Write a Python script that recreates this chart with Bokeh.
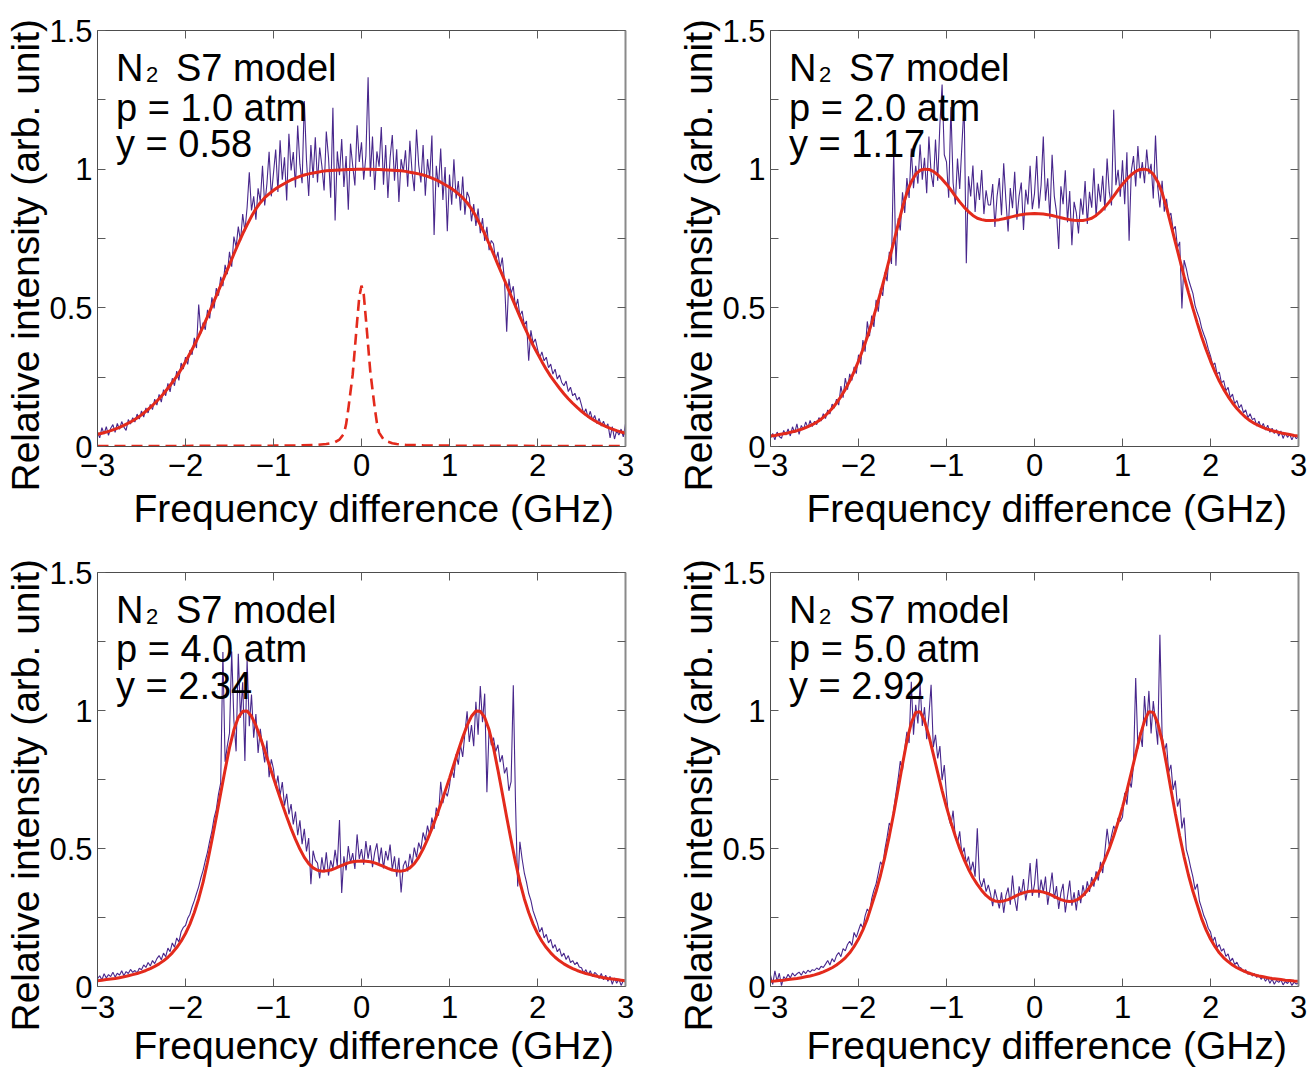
import numpy as np
from bokeh.plotting import figure
from bokeh.models import Range1d, FixedTicker, LinearAxis, Label, Title
from bokeh.layouts import row, column
from bokeh.embed import file_html
from bokeh.resources import INLINE

# ---------------- data ----------------
# measured spectra sampled every 0.025 GHz from -3 to 3 GHz (241 points)
meas_freq = np.round(np.linspace(-3.0, 3.0, 241), 4)
# model curves sampled every 0.05 GHz from -3 to 3 GHz (121 points)
model_freq = np.round(np.linspace(-3.0, 3.0, 121), 4)

x_ticks = [-3, -2, -1, 0, 1, 2, 3]
x_tick_labels = ["\u22123", "\u22122", "\u22121", "0", "1", "2", "3"]
y_ticks = [0.0, 0.25, 0.5, 0.75, 1.0, 1.25, 1.5]
y_tick_labels = ["0", "", "0.5", "", "1", "", "1.5"]

pressures = ["1.0", "2.0", "4.0", "5.0"]
y_params = ["0.58", "1.17", "2.34", "2.92"]

signal_1atm = [
    0.052, 0.031, 0.068, 0.045, 0.072, 0.040, 0.066, 0.079, 0.051, 0.083, 0.062, 0.090, 0.070, 0.058, 0.097, 0.081, 0.104, 0.088, 0.117, 0.099,
    0.128, 0.106, 0.139, 0.121, 0.152, 0.133, 0.171, 0.149, 0.188, 0.160, 0.205, 0.183, 0.228, 0.197, 0.246, 0.219, 0.272, 0.238, 0.301, 0.279,
    0.322, 0.296, 0.348, 0.331, 0.392, 0.355, 0.512, 0.408, 0.447, 0.421, 0.493, 0.462, 0.538, 0.498, 0.571, 0.544, 0.612, 0.578, 0.655, 0.621,
    0.702, 0.648, 0.757, 0.719, 0.793, 0.741, 0.838, 0.776, 0.862, 0.989, 0.851, 0.902, 0.818, 0.931, 0.884, 1.012, 0.869, 0.947, 1.063, 0.902,
    0.986, 1.071, 0.918, 1.104, 0.962, 1.043, 0.887, 1.128, 0.995, 1.062, 0.934, 1.157, 1.018, 0.949, 1.246, 1.032, 0.903, 1.087, 0.968, 1.115,
    0.952, 1.078, 1.011, 0.923, 1.136, 1.042, 0.897, 1.221, 0.815, 1.064, 0.978, 1.109, 0.936, 1.047, 0.854, 1.092, 1.013, 0.941, 1.158, 1.026,
    1.097, 0.962, 1.048, 1.331, 0.973, 1.118, 0.925, 1.064, 1.009, 1.152, 0.944, 1.087, 0.896, 1.041, 1.123, 0.958, 1.072, 0.882, 1.036, 0.991,
    1.068, 0.937, 1.102, 0.989, 0.921, 1.143, 1.015, 0.952, 1.087, 0.904, 1.036, 0.968, 1.121, 0.763, 1.012, 0.935, 1.074, 0.889, 1.008, 0.776,
    0.981, 0.872, 1.036, 0.894, 0.957, 0.851, 0.973, 0.836, 0.918, 0.897, 0.812, 0.874, 0.795, 0.858, 0.769, 0.824, 0.741, 0.792, 0.708, 0.743,
    0.731, 0.668, 0.702, 0.641, 0.681, 0.598, 0.414, 0.605, 0.552, 0.578, 0.497, 0.532, 0.471, 0.489, 0.438, 0.452, 0.309, 0.419, 0.372, 0.388,
    0.352, 0.318, 0.341, 0.309, 0.322, 0.284, 0.297, 0.261, 0.279, 0.243, 0.258, 0.231, 0.219, 0.236, 0.198, 0.214, 0.183, 0.192, 0.167, 0.178,
    0.149, 0.118, 0.136, 0.104, 0.127, 0.095, 0.112, 0.083, 0.101, 0.074, 0.091, 0.068, 0.082, 0.031, 0.072, 0.027, 0.058, 0.041, 0.063, 0.035,
    0.082,
]

signal_2atm = [
    0.031, 0.047, 0.024, 0.052, 0.036, 0.029, 0.058, 0.041, 0.063, 0.038, 0.071, 0.049, 0.082, 0.044, 0.076, 0.061, 0.089, 0.067, 0.094, 0.072,
    0.091, 0.079, 0.104, 0.092, 0.118, 0.101, 0.132, 0.117, 0.153, 0.138, 0.171, 0.149, 0.218, 0.176, 0.247, 0.205, 0.262, 0.238, 0.287, 0.263,
    0.331, 0.296, 0.384, 0.342, 0.451, 0.398, 0.472, 0.431, 0.529, 0.486, 0.571, 0.543, 0.628, 0.596, 0.702, 0.658, 1.068, 0.652, 0.823, 0.779,
    0.917, 0.842, 0.968, 0.896, 1.074, 0.931, 1.012, 0.948, 1.089, 0.962, 1.041, 0.913, 1.118, 0.985, 0.936, 1.107, 0.958, 1.163, 1.305, 1.052,
    1.026, 0.897, 1.224, 0.951, 0.873, 1.038, 0.929, 1.087, 1.238, 0.661, 0.974, 0.902, 1.013, 0.846, 0.952, 0.889, 0.997, 0.838, 0.924, 0.871,
    0.871, 0.946, 0.792, 0.903, 0.968, 0.834, 1.021, 0.887, 0.775, 0.932, 0.859, 0.991, 0.818, 0.904, 0.952, 0.781, 0.926, 0.873, 1.012, 0.856,
    0.912, 1.047, 0.858, 0.943, 1.118, 0.886, 0.967, 0.821, 1.052, 0.903, 0.845, 0.712, 0.938, 0.874, 0.996, 0.809, 0.921, 0.726, 0.882, 0.843,
    0.768, 0.894, 0.836, 0.957, 0.802, 0.918, 0.861, 1.003, 0.829, 0.947, 0.883, 0.976, 0.851, 1.038, 0.917, 0.869, 1.214, 0.942, 0.998, 0.901,
    1.032, 0.874, 1.061, 0.742, 0.993, 1.047, 0.938, 1.083, 0.967, 1.026, 0.949, 1.071, 0.982, 1.019, 0.894, 1.121, 0.936, 0.862, 0.958, 0.847,
    0.893, 0.827, 0.842, 0.781, 0.794, 0.716, 0.738, 0.498, 0.672, 0.641, 0.603, 0.577, 0.552, 0.508, 0.483, 0.461, 0.427, 0.404, 0.382, 0.351,
    0.327, 0.294, 0.301, 0.262, 0.268, 0.229, 0.238, 0.201, 0.213, 0.176, 0.189, 0.154, 0.166, 0.139, 0.151, 0.121, 0.132, 0.104, 0.118, 0.097,
    0.102, 0.074, 0.091, 0.068, 0.083, 0.059, 0.077, 0.051, 0.066, 0.047, 0.061, 0.038, 0.056, 0.029, 0.049, 0.033, 0.044, 0.024, 0.041, 0.028,
    0.036,
]

signal_4atm = [
    0.028, 0.039, 0.024, 0.046, 0.031, 0.043, 0.036, 0.052, 0.034, 0.048, 0.041, 0.057, 0.039, 0.054, 0.047, 0.062, 0.051, 0.058, 0.049, 0.066,
    0.061, 0.078, 0.069, 0.087, 0.074, 0.094, 0.083, 0.101, 0.112, 0.097, 0.121, 0.108, 0.139, 0.126, 0.158, 0.142, 0.176, 0.161, 0.198, 0.214,
    0.221, 0.247, 0.262, 0.289, 0.311, 0.337, 0.362, 0.394, 0.421, 0.456, 0.487, 0.528, 0.563, 0.611, 0.642, 0.697, 0.738, 1.212, 0.814, 0.872,
    0.918, 1.214, 0.963, 0.852, 1.206, 0.974, 1.102, 0.817, 1.186, 0.943, 1.058, 0.901, 0.987, 0.846, 0.934, 0.869, 0.812, 0.891, 0.758, 0.823,
    0.788, 0.719, 0.764, 0.692, 0.741, 0.655, 0.698, 0.624, 0.661, 0.587, 0.634, 0.548, 0.602, 0.516, 0.571, 0.489, 0.538, 0.371, 0.492, 0.458,
    0.447, 0.392, 0.468, 0.413, 0.486, 0.402, 0.457, 0.428, 0.495, 0.437, 0.603, 0.339, 0.472, 0.421, 0.509, 0.448, 0.483, 0.426, 0.551, 0.462,
    0.498, 0.441, 0.527, 0.463, 0.512, 0.432, 0.486, 0.519, 0.447, 0.503, 0.428, 0.491, 0.457, 0.514, 0.423, 0.472, 0.398, 0.466, 0.341, 0.437,
    0.456, 0.417, 0.481, 0.442, 0.503, 0.468, 0.521, 0.497, 0.558, 0.529, 0.583, 0.547, 0.612, 0.571, 0.648, 0.619, 0.742, 0.664, 0.707, 0.689,
    0.728, 0.791, 0.756, 0.842, 0.804, 0.876, 0.832, 0.918, 0.997, 0.886, 0.947, 0.871, 1.032, 0.912, 1.089, 0.958, 1.061, 0.704, 0.936, 0.874,
    0.902, 0.851, 0.876, 0.813, 0.838, 0.772, 0.794, 0.709, 0.742, 1.091, 0.668, 0.362, 0.524, 0.463, 0.412, 0.378, 0.337, 0.312, 0.274, 0.251,
    0.228, 0.197, 0.214, 0.176, 0.189, 0.158, 0.171, 0.139, 0.152, 0.126, 0.137, 0.109, 0.121, 0.098, 0.112, 0.087, 0.094, 0.079, 0.088, 0.071,
    0.068, 0.049, 0.061, 0.042, 0.057, 0.036, 0.051, 0.044, 0.029, 0.047, 0.024, 0.041, 0.019, 0.037, 0.008, 0.031, 0.012, 0.027, 0.004, 0.021,
    0.016,
]

signal_5atm = [
    0.041, 0.008, 0.057, 0.019, 0.048, 0.003, 0.036, 0.027, 0.044, 0.031, 0.049, 0.038, 0.046, 0.052, 0.041, 0.056, 0.047, 0.059, 0.052, 0.061,
    0.058, 0.067, 0.061, 0.073, 0.069, 0.081, 0.094, 0.078, 0.101, 0.089, 0.112, 0.123, 0.108, 0.137, 0.129, 0.152, 0.164, 0.149, 0.196, 0.178,
    0.203, 0.227, 0.212, 0.256, 0.281, 0.267, 0.318, 0.349, 0.372, 0.411, 0.452, 0.438, 0.497, 0.541, 0.592, 0.578, 0.643, 0.698, 0.752, 0.817,
    0.784, 0.861, 0.923, 0.882, 1.104, 0.912, 1.021, 0.953, 1.097, 0.944, 1.012, 0.896, 0.981, 1.093, 0.867, 0.912, 0.826, 0.871, 0.748, 0.802,
    0.694, 0.612, 0.583, 0.637, 0.541, 0.519, 0.562, 0.478, 0.503, 0.446, 0.471, 0.419, 0.452, 0.398, 0.573, 0.387, 0.361, 0.392, 0.344, 0.368,
    0.336, 0.291, 0.352, 0.318, 0.283, 0.341, 0.267, 0.329, 0.358, 0.296, 0.402, 0.317, 0.274, 0.363, 0.331, 0.389, 0.312, 0.356, 0.447, 0.328,
    0.371, 0.463, 0.322, 0.387, 0.341, 0.398, 0.296, 0.352, 0.413, 0.318, 0.364, 0.281, 0.339, 0.372, 0.268, 0.327, 0.384, 0.293, 0.341, 0.276,
    0.349, 0.302, 0.367, 0.328, 0.381, 0.343, 0.396, 0.362, 0.417, 0.384, 0.452, 0.411, 0.489, 0.571, 0.508, 0.547, 0.582, 0.563, 0.611, 0.598,
    0.614, 0.702, 0.659, 0.748, 0.721, 0.803, 1.118, 0.862, 0.921, 0.868, 1.052, 0.943, 1.071, 0.917, 1.034, 0.958, 0.876, 1.274, 0.912, 0.853,
    0.881, 0.776, 0.803, 0.712, 0.746, 0.652, 0.681, 0.573, 0.612, 0.497, 0.468, 0.431, 0.397, 0.351, 0.372, 0.309, 0.284, 0.256, 0.238, 0.211,
    0.198, 0.163, 0.179, 0.141, 0.152, 0.128, 0.137, 0.109, 0.118, 0.091, 0.103, 0.079, 0.088, 0.071, 0.066, 0.053, 0.061, 0.044, 0.052, 0.038,
    0.047, 0.033, 0.041, 0.026, 0.036, 0.019, 0.031, 0.012, 0.027, 0.008, 0.022, 0.015, 0.024, 0.006, 0.018, 0.011, 0.021, 0.004, 0.016, 0.009,
    0.013,
]

model_1atm = [
    0.044, 0.048, 0.052, 0.057, 0.063, 0.069, 0.076, 0.084, 0.093, 0.103, 0.114, 0.127, 0.141, 0.156, 0.172, 0.190, 0.210, 0.231, 0.253, 0.278,
    0.306, 0.335, 0.365, 0.398, 0.432, 0.468, 0.506, 0.543, 0.581, 0.619, 0.656, 0.694, 0.731, 0.767, 0.799, 0.830, 0.857, 0.879, 0.897, 0.911,
    0.924, 0.935, 0.944, 0.953, 0.961, 0.968, 0.974, 0.979, 0.983, 0.986, 0.989, 0.992, 0.994, 0.995, 0.996, 0.997, 0.998, 0.999, 0.999, 1.000,
    1.000,
    1.000, 1.000, 0.999, 0.999, 0.998, 0.997, 0.996, 0.995, 0.994, 0.992, 0.989, 0.986, 0.983, 0.979, 0.974, 0.968, 0.961, 0.953, 0.944, 0.935,
    0.924, 0.911, 0.897, 0.879, 0.857, 0.830, 0.799, 0.767, 0.731, 0.694, 0.656, 0.619, 0.581, 0.543, 0.506, 0.468, 0.432, 0.398, 0.365, 0.335,
    0.306, 0.278, 0.253, 0.231, 0.210, 0.190, 0.172, 0.156, 0.141, 0.127, 0.114, 0.103, 0.093, 0.084, 0.076, 0.069, 0.063, 0.057, 0.052, 0.048,
]

model_2atm = [
    0.038, 0.040, 0.043, 0.046, 0.049, 0.053, 0.057, 0.062, 0.068, 0.075, 0.083, 0.093, 0.105, 0.120, 0.137, 0.157, 0.180, 0.206, 0.236, 0.270,
    0.308, 0.350, 0.395, 0.445, 0.498, 0.555, 0.613, 0.675, 0.737, 0.800, 0.862, 0.915, 0.955, 0.982, 0.996, 1.000, 0.999, 0.992, 0.980, 0.964,
    0.946, 0.925, 0.903, 0.882, 0.863, 0.847, 0.833, 0.823, 0.818, 0.815, 0.815, 0.816, 0.818, 0.821, 0.825, 0.829, 0.833, 0.836, 0.838, 0.839,
    0.840,
    0.839, 0.838, 0.836, 0.833, 0.829, 0.825, 0.821, 0.818, 0.816, 0.815, 0.815, 0.818, 0.823, 0.833, 0.847, 0.863, 0.882, 0.903, 0.925, 0.946,
    0.964, 0.980, 0.992, 0.999, 1.000, 0.996, 0.982, 0.955, 0.915, 0.862, 0.800, 0.737, 0.675, 0.613, 0.555, 0.498, 0.445, 0.395, 0.350, 0.308,
    0.270, 0.236, 0.206, 0.180, 0.157, 0.137, 0.120, 0.105, 0.093, 0.083, 0.075, 0.068, 0.062, 0.057, 0.053, 0.049, 0.046, 0.043, 0.040, 0.038,
]

model_4atm = [
    0.021, 0.023, 0.025, 0.027, 0.029, 0.032, 0.035, 0.039, 0.043, 0.047, 0.052, 0.058, 0.065, 0.073, 0.082, 0.093, 0.106, 0.122, 0.141, 0.164,
    0.192, 0.226, 0.268, 0.318, 0.378, 0.450, 0.530, 0.613, 0.700, 0.785, 0.865, 0.930, 0.975, 0.997, 0.998, 0.979, 0.946, 0.903, 0.855, 0.805,
    0.755, 0.707, 0.660, 0.615, 0.572, 0.533, 0.498, 0.468, 0.445, 0.430, 0.421, 0.418, 0.419, 0.422, 0.428, 0.435, 0.442, 0.448, 0.452, 0.454,
    0.455,
    0.454, 0.452, 0.448, 0.442, 0.435, 0.428, 0.422, 0.419, 0.418, 0.421, 0.430, 0.445, 0.468, 0.498, 0.533, 0.572, 0.615, 0.660, 0.707, 0.755,
    0.805, 0.855, 0.903, 0.946, 0.979, 0.998, 0.997, 0.975, 0.930, 0.865, 0.785, 0.700, 0.613, 0.530, 0.450, 0.378, 0.318, 0.268, 0.226, 0.192,
    0.164, 0.141, 0.122, 0.106, 0.093, 0.082, 0.073, 0.065, 0.058, 0.052, 0.047, 0.043, 0.039, 0.035, 0.032, 0.029, 0.027, 0.025, 0.023, 0.021,
]

model_5atm = [
    0.019, 0.020, 0.022, 0.023, 0.025, 0.027, 0.029, 0.032, 0.035, 0.038, 0.042, 0.047, 0.053, 0.060, 0.068, 0.078, 0.090, 0.104, 0.122, 0.145,
    0.172, 0.205, 0.245, 0.295, 0.345, 0.403, 0.470, 0.545, 0.627, 0.715, 0.805, 0.890, 0.955, 0.993, 0.996, 0.962, 0.908, 0.842, 0.775, 0.710,
    0.650, 0.595, 0.545, 0.500, 0.460, 0.425, 0.395, 0.370, 0.348, 0.330, 0.317, 0.310, 0.308, 0.310, 0.315, 0.322, 0.330, 0.337, 0.342, 0.345,
    0.346,
    0.345, 0.342, 0.337, 0.330, 0.322, 0.315, 0.310, 0.308, 0.310, 0.317, 0.330, 0.348, 0.370, 0.395, 0.425, 0.460, 0.500, 0.545, 0.595, 0.650,
    0.710, 0.775, 0.842, 0.908, 0.962, 0.996, 0.993, 0.955, 0.890, 0.805, 0.715, 0.627, 0.545, 0.470, 0.403, 0.345, 0.295, 0.245, 0.205, 0.172,
    0.145, 0.122, 0.104, 0.090, 0.078, 0.068, 0.060, 0.053, 0.047, 0.042, 0.038, 0.035, 0.032, 0.029, 0.027, 0.025, 0.023, 0.022, 0.020, 0.019,
]

# instrument function (dashed, 1 atm panel only)
instr_freq = [-3.0, -2.0, -1.0, -0.7, -0.5, -0.4, -0.35, -0.3, -0.25, -0.2, -0.175, -0.15, -0.1, -0.05, -0.025,
              0.0, 0.025, 0.05, 0.1, 0.15, 0.175, 0.2, 0.25, 0.3, 0.35, 0.4, 0.5, 0.7, 1.0, 2.0, 3.0]
instr_vals = [0.002, 0.002, 0.003, 0.004, 0.006, 0.009, 0.012, 0.016, 0.025, 0.046, 0.080, 0.135, 0.260, 0.450, 0.540,
              0.580, 0.550, 0.460, 0.270, 0.140, 0.085, 0.050, 0.026, 0.017, 0.012, 0.009, 0.006, 0.004, 0.003, 0.002, 0.002]

signals = [signal_1atm, signal_2atm, signal_4atm, signal_5atm]
models = [model_1atm, model_2atm, model_4atm, model_5atm]

for s in signals:
    assert len(s) == len(meas_freq), len(s)
for m in models:
    assert len(m) == len(model_freq), len(m)
assert len(instr_freq) == len(instr_vals)

# ---------------- styling ----------------
FONT = "Liberation Sans"
DATA_COLOR = "#48278c"
FIT_COLOR = "#e32a1c"
AXIS_COLOR = "#4d4d4d"
TICK_COLOR = "#5a5a5a"
BIG = "38px"
TITLE_SIZE = "39px"


def style_axis(ax, ticks, labels, show_labels=True, line_color=AXIS_COLOR, line_width=1, standoff=4):
    ax.ticker = FixedTicker(ticks=ticks, minor_ticks=[])
    ax.major_tick_in = 8
    ax.major_tick_out = 0
    ax.minor_tick_in = 0
    ax.minor_tick_out = 0
    ax.major_tick_line_color = TICK_COLOR
    ax.major_tick_line_width = 1
    ax.axis_line_color = line_color
    ax.axis_line_width = line_width
    ax.major_label_text_font = FONT
    ax.major_label_text_color = "black"
    if show_labels:
        ax.major_label_text_font_size = "31px"
        ax.major_label_overrides = {t: l for t, l in zip(ticks, labels)}
        ax.major_label_standoff = standoff
    else:
        ax.major_label_overrides = {t: "" for t in ticks}
        ax.major_label_text_font_size = "1px"
        ax.major_label_standoff = 0


def make_panel(idx, width, height, border_right, frame_h, xtick_standoff, xtitle_standoff):
    top_b = 30
    p = figure(width=width, height=height,
               x_range=Range1d(-3, 3), y_range=Range1d(0, 1.5),
               output_backend="svg", toolbar_location=None,
               min_border_left=97, min_border_right=border_right,
               min_border_top=top_b, min_border_bottom=height - top_b - frame_h)
    p.xgrid.visible = False
    p.ygrid.visible = False
    p.outline_line_color = None
    p.background_fill_color = "white"
    p.border_fill_color = "white"

    style_axis(p.xaxis[0], x_ticks, x_tick_labels, standoff=xtick_standoff)
    style_axis(p.yaxis[0], y_ticks, y_tick_labels, standoff=5)
    top = LinearAxis()
    right = LinearAxis()
    style_axis(top, x_ticks, x_tick_labels, show_labels=False)
    style_axis(right, y_ticks, y_tick_labels, show_labels=False, line_color="#8a8a8a", line_width=2)
    p.add_layout(top, "above")
    p.add_layout(right, "right")

    # axis titles
    p.add_layout(Title(text="Relative intensity (arb. unit)", align="left", offset=-45, standoff=0,
                       text_font=FONT, text_font_size=TITLE_SIZE, text_font_style="normal",
                       text_color="black"), "left")
    p.add_layout(Title(text="Frequency difference (GHz)", align="left", offset=36, standoff=xtitle_standoff,
                       text_font=FONT, text_font_size=TITLE_SIZE, text_font_style="normal",
                       text_color="black"), "below")

    p.line(meas_freq, signals[idx], line_color=DATA_COLOR, line_width=1.1)
    p.line(model_freq, models[idx], line_color=FIT_COLOR, line_width=3)
    if idx == 0:
        p.line(instr_freq, instr_vals, line_color=FIT_COLOR, line_width=2.6, line_dash="11 6")

    # in-plot annotation
    x0 = -2.79
    common = dict(text_font=FONT, text_color="black", text_baseline="alphabetic", text_align="left")
    p.add_layout(Label(x=x0, y=1.363, text="N", text_font_size=BIG, **common))
    p.add_layout(Label(x=x0 + 0.341, y=1.341, text="2", text_font_size="22px", **common))
    p.add_layout(Label(x=x0 + 0.682, y=1.363, text="S7 model", text_font_size=BIG, **common))
    p.add_layout(Label(x=x0, y=1.222, text="p = %s atm" % pressures[idx], text_font_size=BIG, **common))
    p.add_layout(Label(x=x0, y=1.089, text="y = %s" % y_params[idx], text_font_size=BIG, **common))
    return p


p1 = make_panel(0, 673, 542, 48, 416, 7, 12)
p2 = make_panel(1, 637, 542, 12, 416, 7, 12)
p3 = make_panel(2, 673, 526, 48, 414, 9, 2)
p4 = make_panel(3, 637, 526, 12, 414, 9, 2)

layout = column(row(p1, p2), row(p3, p4))

open("out.html", "w").write(file_html(layout, INLINE))
